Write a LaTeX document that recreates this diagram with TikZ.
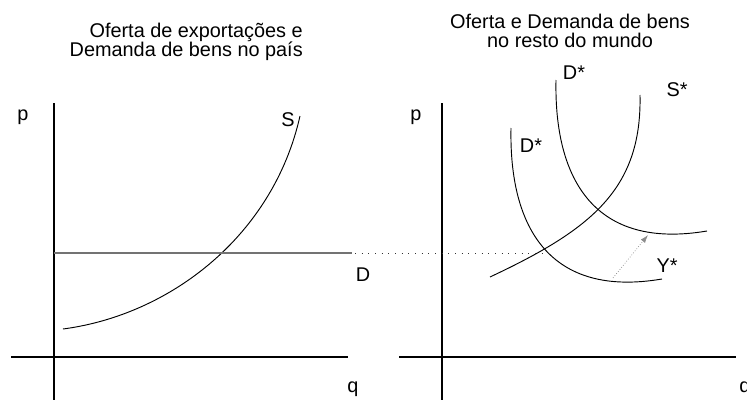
\documentclass[tikz,border=0pt]{standalone}
\usepackage{fontspec}
\setmainfont{Liberation Sans}
\usetikzlibrary{arrows.meta}

\begin{document}
\begin{tikzpicture}[x=0.75pt, y=-0.75pt, font=\fontsize{14.9}{14.25}\selectfont, every node/.style={inner sep=0pt}]
\tikzset{
  axis/.style={black, line width=0.8pt},
  axisdark/.style={black, line width=1.1pt},
  curve/.style={black, line width=0.7pt},
  dline/.style={black!55, line width=0.9pt},
  guide/.style={black!80, line width=0.7pt, dash pattern=on 0.8pt off 4.2pt},
  shiftarr/.style={-{Latex[length=6pt,width=4pt]}, black!45, line width=0.5pt, dash pattern=on 0.6pt off 1.4pt}
}
\useasboundingbox (0,0) rectangle (747,400);

% titles
\node[align=right, anchor=north east] (tleft) at (303,23) {Oferta de exportações e\\Demanda de bens no país};
\node[align=center, anchor=north] (tright) at (570,14) {Oferta e Demanda de bens\\no resto do mundo};

% left panel: axes
\coordinate (yl0) at (54,103);
\coordinate (yl1) at (54,400);
\coordinate (xl0) at (11,357);
\coordinate (xl1) at (348,357);
\draw[axis] (yl0) -- (yl1);
\draw[axis] (xl0) -- (xl1);
\draw[axisdark] (xl0) -- (72,357);
\node (pl) at (23,117) {p};
\node (ql) at (353,389) {q};

% export supply and domestic demand
\coordinate (s0) at (63,329);
\coordinate (s1) at (300,116);
\draw[curve] (s0) .. controls (170,315) and (273,236) .. (s1);
\node (slbl) at (288,120) {S};
\coordinate (d0) at (54,253);
\coordinate (d1) at (352,253);
\draw[dline] (d0) -- (d1);
\node (dlbl) at (363,275) {D};

% right panel: axes
\coordinate (yr0) at (442,103);
\coordinate (yr1) at (442,400);
\coordinate (xr0) at (399,357);
\coordinate (xr1) at (736,357);
\draw[axis] (yr0) -- (yr1);
\draw[axis] (xr0) -- (xr1);
\draw[axisdark] (xr0) -- (460,357);
\node (pr) at (416,117) {p};
\node (qr) at (745,389) {q};

% rest-of-world supply and demand
\coordinate (ss0) at (640,95);
\coordinate (ss1) at (490,277);
\draw[curve] (ss0) .. controls (642,190) and (590,230) .. (ss1);
\node (sslbl) at (677,90) {S*};

\coordinate (da0) at (556,80);
\coordinate (da1) at (707,231);
\draw[curve] (da0) .. controls (554,180) and (595,250) .. (da1);
\node (dalbl) at (574,73) {D*};

\coordinate (db0) at (511,128);
\coordinate (db1) at (662,279);
\draw[curve] (db0) .. controls (509,228) and (550,298) .. (db1);
\node (dblbl) at (531,146) {D*};

% link between the panels
\coordinate (eq) at (545,253);
\draw[guide] (355,253) -- (eq);

% demand shift
\coordinate (y0) at (613,278);
\coordinate (y1) at (648,235);
\draw[shiftarr] (y0) -- (y1);
\node (ylbl) at (667,266) {Y*};
\end{tikzpicture}
\end{document}
